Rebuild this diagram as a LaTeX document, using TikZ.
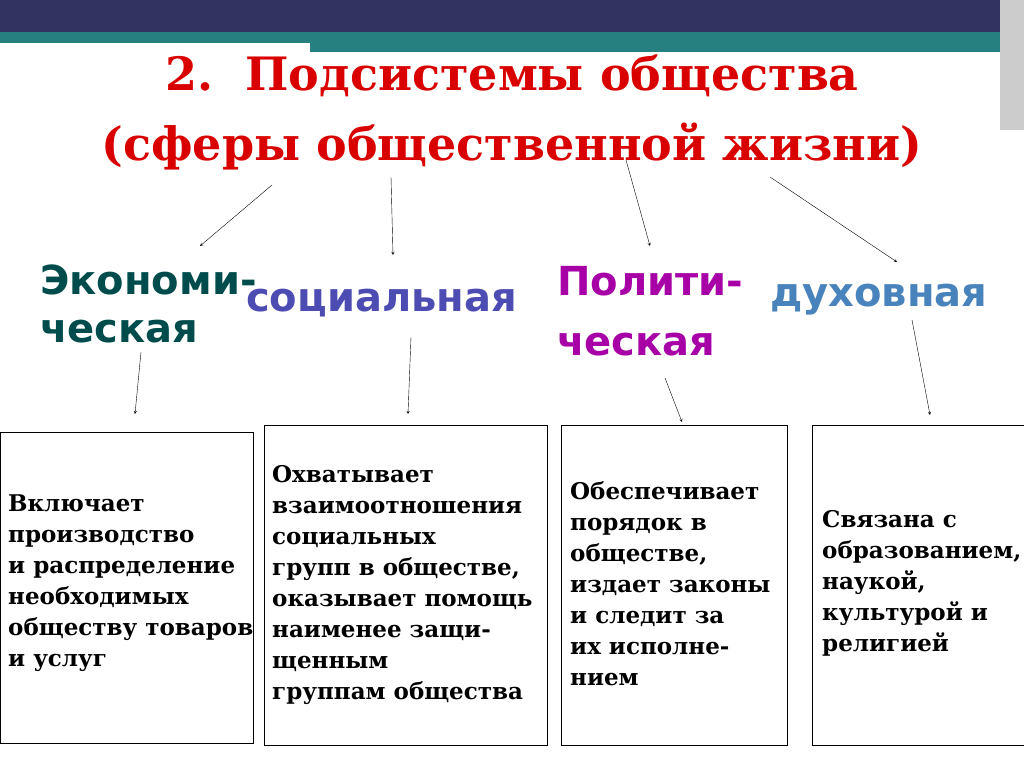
\documentclass[tikz,border=0pt]{standalone}
\usepackage{fontspec}
\setmainfont{DejaVu Serif}
\newfontfamily\spherefont{DejaVu Sans}
\begin{document}
\begin{tikzpicture}[x=1pt,y=-1pt,
  sphere/.style={font=\spherefont\bfseries\fontsize{40}{48}\selectfont,anchor=west,inner sep=0pt,align=left},
  infotext/.style={anchor=north west,align=left,font=\bfseries\fontsize{23}{31}\selectfont,inner sep=0pt},
  link/.style={->,>=stealth,thin}]
\useasboundingbox (0,0) rectangle (1024,767);
% top bars
\fill[black!70!blue!60!gray] (0,0) rectangle (1000,32);
\fill[teal!70!gray] (0,32) rectangle (1000,43);
\fill[teal!70!gray] (310,43) rectangle (1000,52);
\fill[gray!40] (1000,0) rectangle (1024,130);
% title
\node[font=\bfseries\fontsize{46}{70}\selectfont,text=red!85!black,align=center] (title) at (512,112)
  {2.\ \ Подсистемы общества\\(сферы общественной жизни)};
% spheres
\node[sphere,text=teal!60!black] (econ) at (40,304) {Экономи-\\ческая};
\node[sphere,text=blue!40!gray] (soc) at (246,303) {социальная};
\node[sphere,text=violet!70!magenta,font=\spherefont\bfseries\fontsize{40}{60}\selectfont] (pol) at (557,311) {Полити-\\ческая};
\node[sphere,text=cyan!60!blue!70!gray] (spir) at (770,300) {духовная};
% boxes
\draw[thick] (0,432) rectangle (253,743);
\draw[thick] (264,425) rectangle (547,745);
\draw[thick] (561,425) rectangle (787,745);
\draw[thick] (812,425) rectangle (1024,745);
\node[infotext] (t1) at (8,495) {Включает\\производство\\и распределение\\необходимых\\обществу товаров\\и услуг};
\node[infotext] (t2) at (272,465) {Охватывает\\ взаимоотношения\\ социальных\\групп в обществе,\\оказывает помощь\\наименее защи-\\щенным\\группам общества};
\node[infotext] (t3) at (570,481) {Обеспечивает\\порядок в\\обществе,\\издает законы\\и следит за\\их исполне-\\нием};
\node[infotext] (t4) at (822,510) {Связана с\\образованием,\\наукой,\\культурой и\\религией};
% arrows
\coordinate (a1) at (272,185); \coordinate (b1) at (200,246);
\coordinate (a2) at (391,177); \coordinate (b2) at (393,255);
\coordinate (a3) at (626,160); \coordinate (b3) at (650,246);
\coordinate (a4) at (770,177); \coordinate (b4) at (897,262);
\coordinate (c1) at (141,352); \coordinate (d1) at (135,414);
\coordinate (c2) at (411,337); \coordinate (d2) at (408,414);
\coordinate (c3) at (665,378); \coordinate (d3) at (682,422);
\coordinate (c4) at (912,320); \coordinate (d4) at (930,415);
\foreach \i in {1,...,4} {
  \draw[link] (a\i) -- (b\i);
  \draw[link] (c\i) -- (d\i);
}
\end{tikzpicture}
\end{document}
